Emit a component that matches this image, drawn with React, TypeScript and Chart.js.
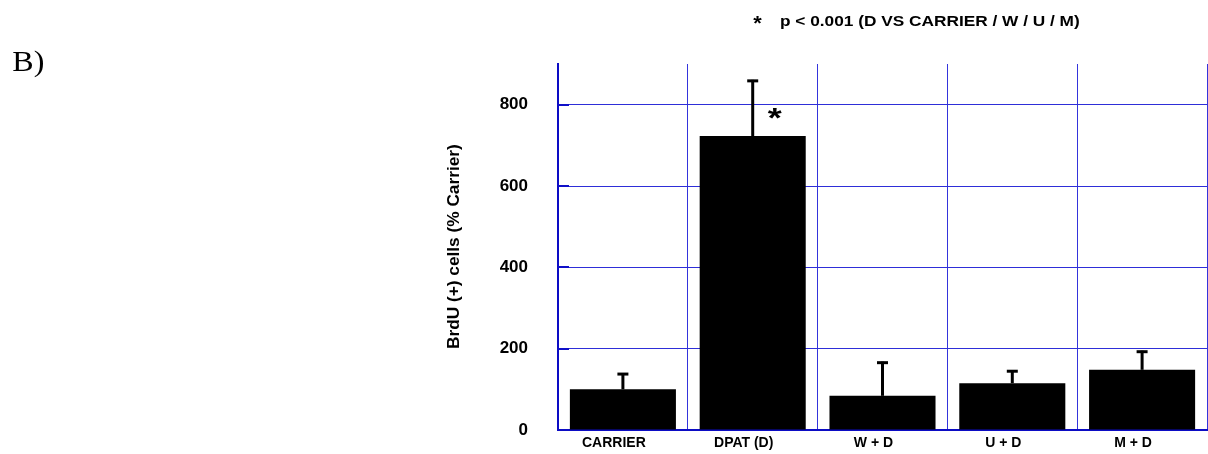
import React, { useEffect, useRef } from "react";
import { Chart, registerables } from "chart.js";

Chart.register(...registerables);

const categories = ["CARRIER", "DPAT (D)", "W + D", "U + D", "M + D"];
const means = [100, 723, 84, 115, 148];
const errPlus = [40, 138, 84, 32, 47];
const yTicks = [0, 200, 400, 600, 800];
const yMax = 900;
const yTitle = "BrdU (+) cells (% Carrier)";
const headerStar = "*";
const headerText = "p < 0.001 (D VS CARRIER / W / U / M)";
const panelLabel = "B)";
const sigIndex = 1;
const sigMark = "*";
const sigValue = 780;

const SANS = "'Liberation Sans', Arial, sans-serif";
const SERIF = "'Liberation Serif', 'Times New Roman', serif";

function drawInk(
  ctx: CanvasRenderingContext2D,
  text: string,
  cx: number,
  cy: number,
  w: number,
  h: number,
  weight: string,
  family: string,
  rotate = false
) {
  ctx.save();
  ctx.font = `${weight} 100px ${family}`;
  ctx.textAlign = "left";
  ctx.textBaseline = "alphabetic";
  const m = ctx.measureText(text);
  const inkW = m.actualBoundingBoxLeft + m.actualBoundingBoxRight;
  const inkH = m.actualBoundingBoxAscent + m.actualBoundingBoxDescent;
  ctx.translate(cx, cy);
  if (rotate) ctx.rotate(-Math.PI / 2);
  ctx.scale(w / inkW, h / inkH);
  ctx.fillStyle = "#000";
  ctx.fillText(
    text,
    -(m.actualBoundingBoxRight - m.actualBoundingBoxLeft) / 2,
    (m.actualBoundingBoxAscent - m.actualBoundingBoxDescent) / 2
  );
  ctx.restore();
}

const extrasPlugin = {
  id: "extras",
  afterDatasetsDraw(chart: any) {
    const ctx = chart.ctx as CanvasRenderingContext2D;
    const y = chart.scales.y;
    const meta = chart.getDatasetMeta(0);
    ctx.save();
    ctx.strokeStyle = "#1010c8";
    ctx.lineWidth = 2;
    yTicks.forEach((v) => {
      if (v === 0) return;
      const py = Math.round(y.getPixelForValue(v));
      ctx.beginPath();
      ctx.moveTo(chart.chartArea.left, py);
      ctx.lineTo(chart.chartArea.left + 11, py);
      ctx.stroke();
    });
    ctx.strokeStyle = "#000";
    ctx.lineWidth = 3;
    ctx.lineCap = "butt";
    meta.data.forEach((el: any, i: number) => {
      const x = el.x;
      const top = y.getPixelForValue(means[i] + errPlus[i]);
      ctx.beginPath();
      ctx.moveTo(x, el.y);
      ctx.lineTo(x, top);
      ctx.stroke();
      ctx.beginPath();
      ctx.moveTo(x - 5.5, top + 1);
      ctx.lineTo(x + 5.5, top + 1);
      ctx.stroke();
    });
    ctx.restore();
  },
  afterDraw(chart: any) {
    const ctx = chart.ctx as CanvasRenderingContext2D;
    const y = chart.scales.y;
    const meta = chart.getDatasetMeta(0);
    const el = meta.data[sigIndex];
    drawInk(ctx, sigMark, el.x + 22, y.getPixelForValue(sigValue), 14, 10.5, "bold", SANS);
    drawInk(ctx, headerStar, 757.5, 20.5, 8.5, 7.5, "bold", SANS);
    drawInk(ctx, headerText, 930, 21.8, 298, 13.5, "bold", SANS);
    drawInk(ctx, yTitle, 454.5, 246.5, 203, 15, "bold", SANS, true);
    drawInk(ctx, panelLabel, 28, 63.5, 30, 27, "normal", SERIF);
  },
};

export default function App() {
  const ref = useRef<HTMLCanvasElement | null>(null);

  useEffect(() => {
    document.body.style.margin = "0";
    if (!ref.current) return;
    const chart = new Chart(ref.current, {
      type: "bar",
      data: {
        labels: categories,
        datasets: [
          {
            data: means,
            backgroundColor: "#000",
            borderWidth: 0,
            barPercentage: 0.817,
            categoryPercentage: 1,
          },
        ],
      },
      options: {
        responsive: false,
        animation: false,
        events: [],
        layout: { padding: { left: 0, top: 64, right: 1, bottom: 0 } },
        plugins: {
          legend: { display: false },
          tooltip: { enabled: false },
          title: { display: false },
        },
        scales: {
          x: {
            type: "category",
            afterFit: (s: any) => {
              s.height = 24;
              s.paddingLeft = 0;
              s.paddingRight = 0;
            },
            grid: {
              offset: true,
              drawTicks: false,
              lineWidth: 1,
              color: "#3434dc",
            },
            border: { display: true, color: "#0c0cc4", width: 2 },
            ticks: {
              color: "#000",
              font: { family: SANS, size: 14, weight: "bold" },
              padding: 5,
              labelOffset: -9,
              maxRotation: 0,
            },
          },
          y: {
            min: 0,
            max: yMax,
            afterFit: (s: any) => {
              s.width = 558;
              s.paddingTop = 0;
              s.paddingBottom = 0;
            },
            afterBuildTicks: (s: any) => {
              s.ticks = yTicks.map((v) => ({ value: v }));
            },
            grid: {
              drawTicks: false,
              lineWidth: 1,
              color: "#2e2ed8",
            },
            border: { display: true, color: "#0c0cc4", width: 2 },
            ticks: {
              color: "#000",
              font: { family: SANS, size: 17, weight: "bold" },
              padding: 30,
            },
          },
        },
      },
      plugins: [extrasPlugin],
    } as any);
    return () => chart.destroy();
  }, []);

  return (
    <div style={{ width: 1208, height: 454, position: "relative" }}>
      <canvas ref={ref} width={1208} height={454} style={{ display: "block" }} />
    </div>
  );
}
